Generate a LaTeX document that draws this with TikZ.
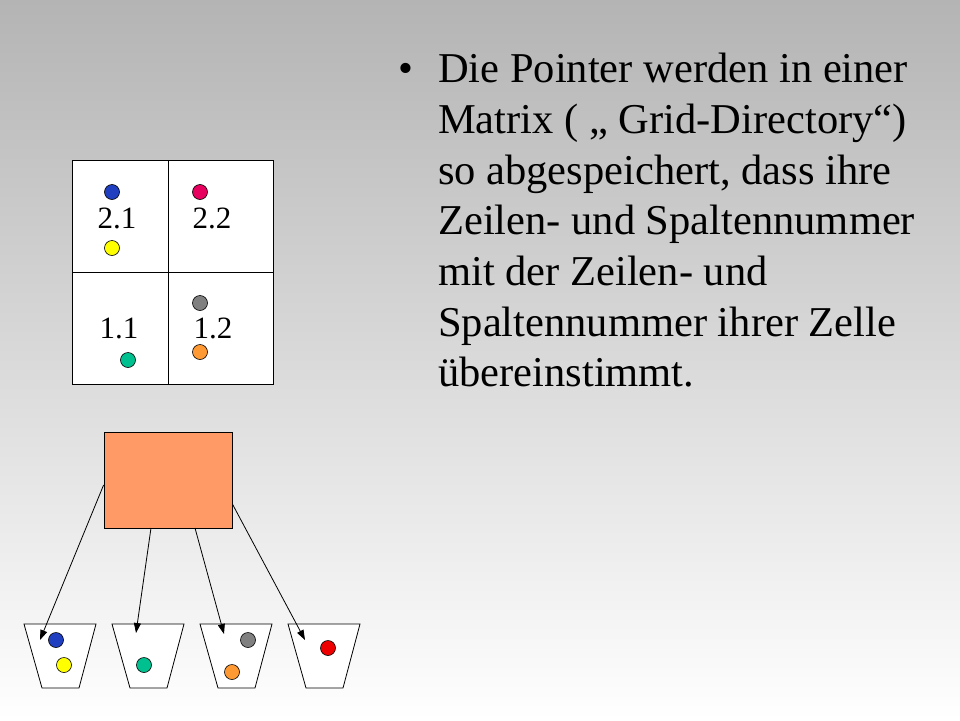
\documentclass[tikz,border=0pt]{standalone}
\usepackage{fontspec}
\setmainfont{Liberation Serif}
\usetikzlibrary{arrows.meta}
\definecolor{dblue}{HTML}{1F3FC0}
\definecolor{dyel}{HTML}{FFFF00}
\definecolor{dmag}{HTML}{E8005F}
\definecolor{dgray}{HTML}{808080}
\definecolor{dorg}{HTML}{FF9933}
\definecolor{dteal}{HTML}{00C090}
\definecolor{dred}{HTML}{EE0000}
\definecolor{boxorg}{HTML}{FF9966}
\definecolor{bgtop}{HTML}{B4B4B4}
\tikzset{
 dot/.style={circle,draw=black,line width=0.6pt,minimum size=15pt,inner sep=0pt},
 lbl/.style={font=\fontsize{31}{31}\selectfont,inner sep=0pt},
 txt/.style={font=\fontsize{42.5}{42.5}\selectfont,anchor=base west,inner sep=0pt},
 bucket/.style={draw=black,fill=white,line width=0.8pt},
 arr/.style={-{Triangle[length=10pt,width=7pt]},line width=0.8pt}
}
\begin{document}
\begin{tikzpicture}[x=1pt,y=-1pt]
\shade[top color=bgtop,bottom color=white] (0,0) rectangle (960,720);
\useasboundingbox (0,0) rectangle (960,720);
% grid
\draw[fill=white,line width=0.8pt] (72,160) rectangle (273,384);
\draw[line width=0.8pt] (168,160) -- (168,384) (72,272) -- (273,272);
\node[lbl] (l21) at (117,218) {2.1};
\node[lbl] (l22) at (212,218) {2.2};
\node[lbl] (l11) at (119,328) {1.1};
\node[lbl] (l12) at (213,328) {1.2};
\node[dot,fill=dblue] (g1) at (112,192) {};
\node[dot,fill=dyel] (g2) at (112,248) {};
\node[dot,fill=dmag] (g3) at (200,192) {};
\node[dot,fill=dgray] (g4) at (200,303) {};
\node[dot,fill=dorg] (g5) at (200,352) {};
\node[dot,fill=dteal] (g6) at (128,360) {};
% directory box
\node[draw=black,fill=boxorg,line width=0.8pt,minimum width=128pt,minimum height=96pt,inner sep=0pt] (box) at (168,480) {};
% buckets
\draw[bucket] (24,624) -- (96,624) -- (79,688) -- (42,688) -- cycle;
\draw[bucket] (112,624) -- (184,624) -- (167,688) -- (130,688) -- cycle;
\draw[bucket] (200,624) -- (272,624) -- (255,688) -- (218,688) -- cycle;
\draw[bucket] (288,624) -- (360,624) -- (343,688) -- (306,688) -- cycle;
\coordinate (e1) at (40,640);
\coordinate (e2) at (136,633);
\coordinate (e3) at (224,634);
\coordinate (e4) at (305,640);
\node[dot,fill=dblue] (b1) at (56,640) {};
\node[dot,fill=dyel] (b2) at (64,665) {};
\node[dot,fill=dteal] (b3) at (144,665) {};
\node[dot,fill=dgray] (b4) at (248,640) {};
\node[dot,fill=dorg] (b5) at (232,672) {};
\node[dot,fill=dred] (b6) at (328,648) {};
\draw[arr] (box.west |- 0,485) -- (e1);
\draw[arr] (151,528) -- (e2);
\draw[arr] (195,528) -- (e3);
\draw[arr] (box.east |- 0,504) -- (e4);
% text
\node[txt] (bul) at (398,82) {•};
\node[txt] (t1) at (438,82) {Die Pointer werden in einer};
\node[txt] (t2) at (438,133) {Matrix ( „ Grid-Directory“)};
\node[txt] (t3) at (438,184) {so abgespeichert, dass ihre};
\node[txt] (t4) at (438,234) {Zeilen- und Spaltennummer};
\node[txt] (t5) at (438,285) {mit der Zeilen- und};
\node[txt] (t6) at (438,336) {Spaltennummer ihrer Zelle};
\node[txt] (t7) at (438,386) {übereinstimmt.};
\end{tikzpicture}
\end{document}
